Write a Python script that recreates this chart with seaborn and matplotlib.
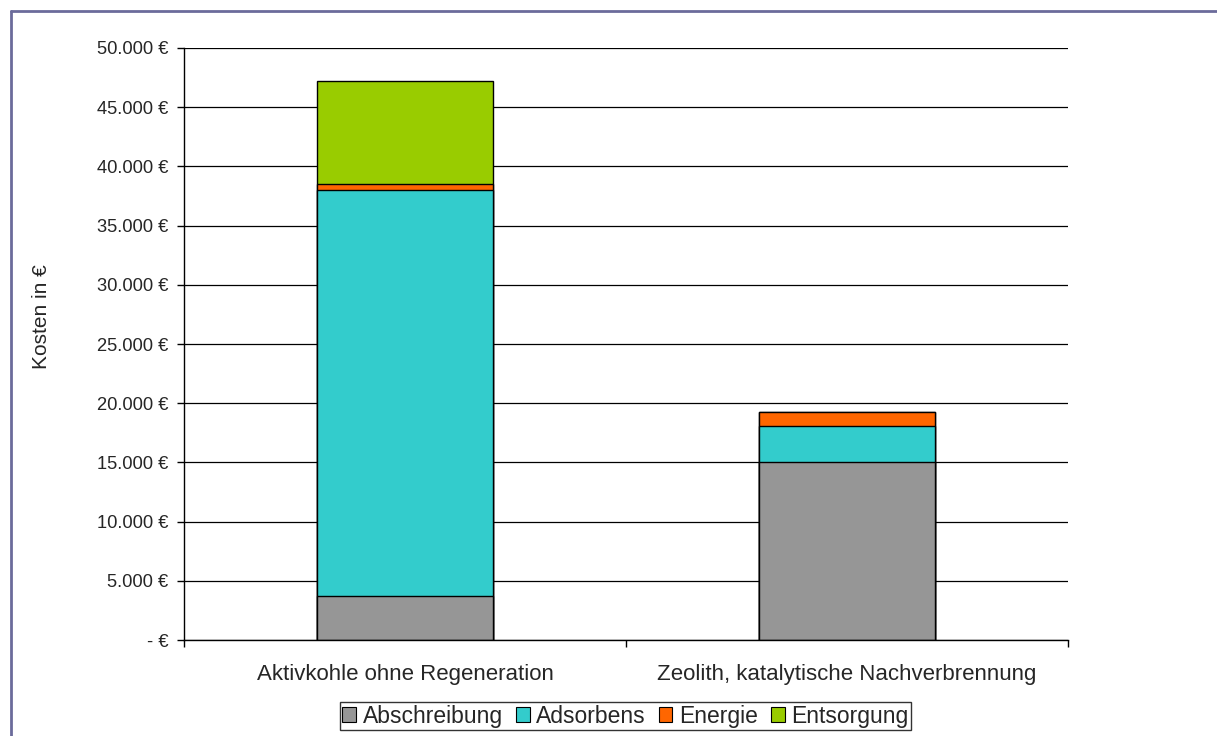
import matplotlib
matplotlib.use("Agg")
import matplotlib.pyplot as plt
import matplotlib.ticker as mticker
from matplotlib.lines import Line2D
from matplotlib.patches import Patch
import numpy as np
import seaborn as sns

# Kosten je Verfahren (in Euro)
categories = ["Aktivkohle ohne Regeneration", "Zeolith, katalytische Nachverbrennung"]
components = ["Abschreibung", "Adsorbens", "Energie", "Entsorgung"]
abschreibung = [3700, 15000]
adsorbens = [34300, 3050]
energie = [500, 1200]
entsorgung = [8700, 0]
colors = ["#969696", "#33cccc", "#ff6600", "#99cc00"]

sns.set_style("white")
plt.rcParams["font.family"] = ["Liberation Sans", "DejaVu Sans"]

fig = plt.figure(figsize=(12.17, 7.36), dpi=100)
ax = fig.add_axes([0.1512, 0.1304, 0.7264, 0.8044])

# stacked bars: draw cumulative totals from the top down
layers = np.array([abschreibung, adsorbens, energie, entsorgung])
cum = layers.cumsum(axis=0)
for i in reversed(range(len(components))):
    sns.barplot(x=categories, y=cum[i], color=colors[i], saturation=1,
                width=0.4, edgecolor="black", linewidth=1.0, ax=ax)

ax.set_ylim(0, 50000)
ax.set_xlim(-0.5, 1.5)
ax.set_yticks(np.arange(0, 50001, 5000))
ax.yaxis.set_major_formatter(mticker.FuncFormatter(
    lambda v, p: "- €" if v == 0 else f"{v:,.0f} €".replace(",", ".")))
ax.yaxis.grid(True, color="black", linewidth=0.9)
ax.set_axisbelow(True)
for s in ["top", "right"]:
    ax.spines[s].set_visible(False)
for s in ["left", "bottom"]:
    ax.spines[s].set_color("black")
    ax.spines[s].set_linewidth(1.0)

ax.tick_params(axis="y", length=5, width=1, color="black", labelsize=13.2, pad=6, left=True)
ax.tick_params(axis="x", which="major", length=0, labelsize=16, pad=17)
ax.set_xticks([-0.5, 0.5, 1.5], minor=True)
ax.tick_params(axis="x", which="minor", length=5, width=1, color="black", bottom=True)
ax.set_ylabel("Kosten in €", fontsize=15)
ax.yaxis.set_label_coords(-0.151, 0.547)
ax.set_xlabel("")

handles = [Patch(facecolor=c, edgecolor="black", linewidth=0.8) for c in colors]
leg = fig.legend(handles, components, loc="lower center", ncol=4,
                 bbox_to_anchor=(0.514, 0.0), fontsize=16.5, frameon=True,
                 fancybox=False, edgecolor="black", handlelength=0.6,
                 handleheight=0.6, handletextpad=0.3, columnspacing=0.55,
                 borderpad=0.12, borderaxespad=0.25)
leg.get_frame().set_linewidth(1.0)

# outer frame of the chart area
fig.add_artist(Line2D([11 / 1217, 11 / 1217], [0, 1 - 11 / 736], color="#6b6b9b", lw=2))
fig.add_artist(Line2D([11 / 1217, 1], [1 - 11 / 736, 1 - 11 / 736], color="#6b6b9b", lw=2))

fig.savefig("out.png", dpi=100, facecolor="white")
